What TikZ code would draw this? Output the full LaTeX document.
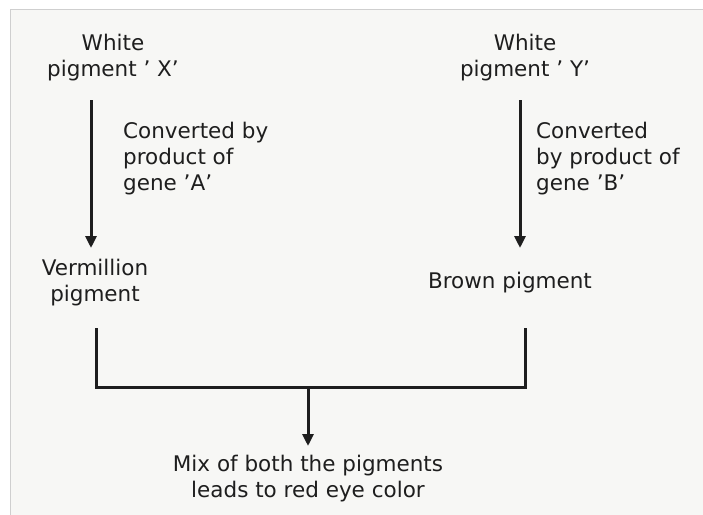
\documentclass[tikz,border=0pt]{standalone}
\usepackage{fontspec}
\setmainfont{DejaVu Sans}
\usetikzlibrary{arrows.meta}
\definecolor{paper}{HTML}{F7F7F5}
\definecolor{ink}{HTML}{1E1E1E}
\definecolor{frame}{HTML}{CFCFCF}
\begin{document}
\begin{tikzpicture}[x=1pt,y=-1pt,
  lbl/.style={inner sep=0pt, text=ink, font=\fontsize{21.5}{26}\selectfont},
  conn/.style={draw=ink, line width=3pt},
  arr/.style={conn, -{Triangle[length=12pt,width=11pt]}}]
\useasboundingbox (0,0) rectangle (703,514);
\fill[white] (0,0) rectangle (703,514);
\filldraw[fill=paper, draw=frame, line width=1pt] (10,9) rectangle (705,516);
% texts
\node[lbl, align=center] (wx) at (113,58) {White\\pigment ' X'};
\node[lbl, align=left, anchor=west] (ca) at (123,159) {Converted by\\product of\\gene 'A'};
\node[lbl, align=center] (verm) at (95,283) {Vermillion\\pigment};
\node[lbl, align=center] (wy) at (525,58) {White\\pigment ' Y'};
\node[lbl, align=left, anchor=west] (cb) at (536,159) {Converted\\by product of\\gene 'B'};
\node[lbl] (brown) at (510,283) {Brown pigment};
\node[lbl, align=center] (mix) at (308,479) {Mix of both the pigments\\leads to red eye color};
% connector helper points
\coordinate (xa) at (91,100);
\coordinate (xb) at (91,248);
\coordinate (ya) at (520,100);
\coordinate (yb) at (520,248);
\coordinate (vl) at (96,328);
\coordinate (bl) at (525,328);
\coordinate (jn) at (308,387);
\coordinate (mt) at (308,446);
% arrows
\draw[arr] (xa) -- (xb);
\draw[arr] (ya) -- (yb);
\draw[conn] (vl) |- (jn) -| (bl);
\draw[arr] (jn) -- (mt);
\end{tikzpicture}
\end{document}
